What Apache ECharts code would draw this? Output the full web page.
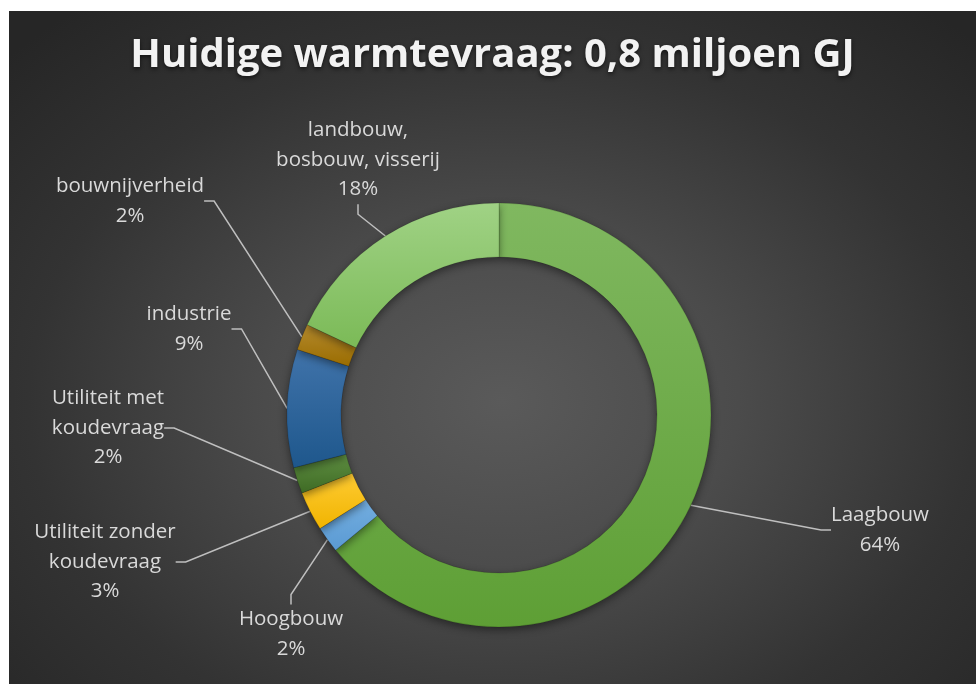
<!DOCTYPE html>
<html>
<head>
<meta charset="utf-8">
<script src="https://cdn.jsdelivr.net/npm/echarts@6/dist/echarts.min.js"></script>
<style>
  html, body { margin: 0; padding: 0; background: #ffffff; }
  #chart {
    position: absolute;
    left: 9px;
    top: 11px;
    width: 967px;
    height: 673px;
    background: radial-gradient(ellipse 70% 75% at 51% 58%, #5a5a5a 0%, #4b4b4b 35%, #333333 70%, #262626 100%);
  }
</style>
</head>
<body>
<div id="chart"></div>
<script>
// data
const categories = ['Laagbouw', 'Hoogbouw', 'Utiliteit zonder koudevraag', 'Utiliteit met koudevraag', 'industrie', 'bouwnijverheid', 'landbouw, bosbouw, visserij']
const labelNames = ['Laagbouw', 'Hoogbouw', 'Utiliteit zonder\nkoudevraag', 'Utiliteit met\nkoudevraag', 'industrie', 'bouwnijverheid', 'landbouw,\nbosbouw, visserij']
const shares = [64, 2, 3, 2, 9, 2, 18]

// styling
const colorStops = [
  ['#80b860', '#5e9f35'],
  ['#74aee0', '#5a9ad3'],
  ['#ffcb33', '#f0b400'],
  ['#5f8f42', '#3e6a24'],
  ['#4073aa', '#1e578c'],
  ['#b48a2e', '#9a6c00'],
  ['#a0d285', '#7bba57']
]
// label block centres inside the chart box
const labelPos = [
  [871, 519], [282, 623], [96, 551], [99, 417], [180, 318], [121, 190], [349, 149]
]

const chart = echarts.init(document.getElementById('chart'))

const seriesData = categories.map((name, i) => ({
  name: name,
  value: shares[i],
  itemStyle: {
    color: new echarts.graphic.LinearGradient(0, 0, 0, 1, [
      { offset: 0, color: colorStops[i][0] },
      { offset: 1, color: colorStops[i][1] }
    ])
  }
}))

chart.setOption({
  backgroundColor: 'transparent',
  title: {
    text: 'Huidige warmtevraag: 0,8 miljoen GJ',
    left: 'center',
    top: 20,
    textStyle: {
      fontFamily: 'Open Sans',
      fontWeight: 'bold',
      fontSize: 40,
      color: '#f2f2f2',
      textShadowColor: 'rgba(0,0,0,0.6)',
      textShadowBlur: 4,
      textShadowOffsetY: 2
    }
  },
  series: [
    {
      type: 'pie',
      center: [490, 404],
      radius: [158, 212],
      startAngle: 90,
      clockwise: true,
      avoidLabelOverlap: false,
      data: seriesData,
      itemStyle: {
        borderColor: 'rgba(0,0,0,0.12)',
        borderWidth: 0.6,
        shadowBlur: 8,
        shadowColor: 'rgba(0,0,0,0.45)',
        shadowOffsetY: 3
      },
      label: {
        show: true,
        formatter: p => labelNames[p.dataIndex] + '\n' + Math.round(p.percent) + '%',
        color: '#d9d9d9',
        fontFamily: 'Open Sans',
        fontSize: 20.5,
        lineHeight: 29.5,
        align: 'center'
      },
      labelLine: {
        show: true,
        length: 20,
        length2: 10,
        lineStyle: { color: '#bfbfbf', width: 1.5 }
      },
      labelLayout: params => ({
        x: labelPos[params.dataIndex][0],
        y: labelPos[params.dataIndex][1],
        align: 'center',
        verticalAlign: 'middle'
      }),
      emphasis: { disabled: true }
    }
  ]
})

window.addEventListener('resize', () => chart.resize())
</script>
</body>
</html>
